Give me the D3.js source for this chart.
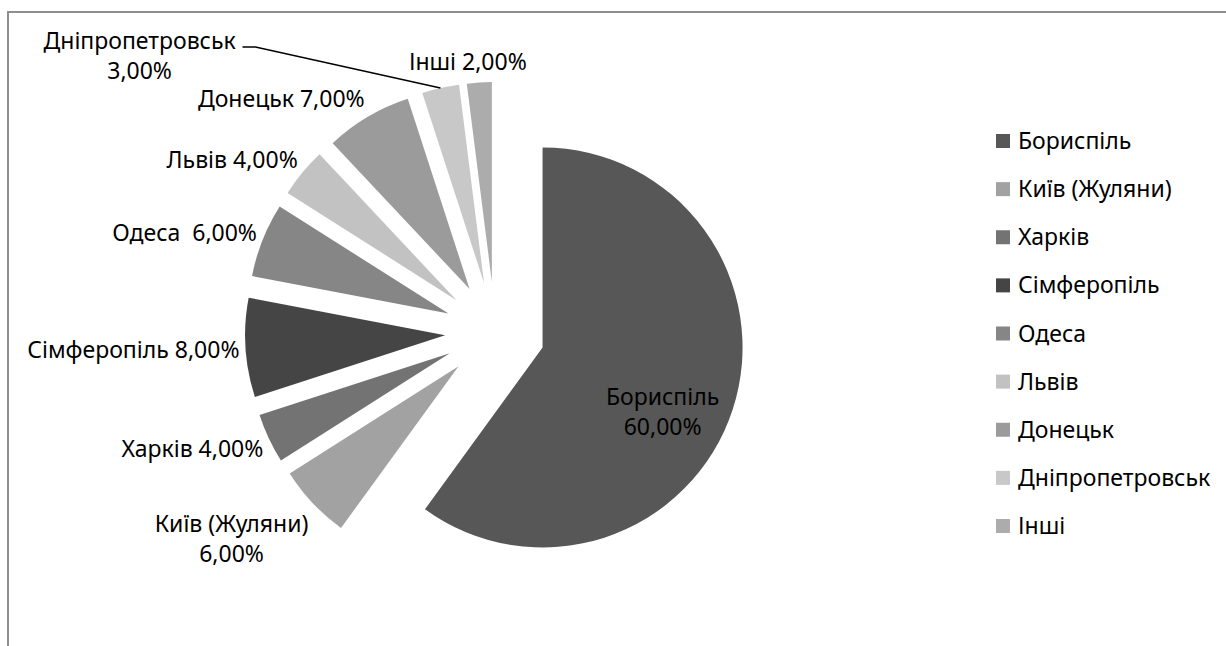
<!DOCTYPE html>
<html>
<head>
<meta charset="utf-8">
<script src="https://cdn.jsdelivr.net/npm/d3@7"></script>
<style>
  body { margin: 0; background: #fff; }
  text { font-family: "Noto Sans", sans-serif; font-size: 23px; fill: #000; white-space: pre; }
</style>
</head>
<body>
<script>
// airports and their share of passengers
var cities = ["Бориспіль", "Київ (Жуляни)", "Харків", "Сімферопіль", "Одеса",
              "Львів", "Донецьк", "Дніпропетровськ", "Інші"];
var shares = [60, 6, 4, 8, 6, 4, 7, 3, 2];
var sliceLabels = [["Бориспіль", "60,00%"], ["Київ (Жуляни)", "6,00%"], ["Харків 4,00%"],
                   ["Сімферопіль 8,00%"], ["Одеса  6,00%"], ["Львів 4,00%"],
                   ["Донецьк 7,00%"], ["Дніпропетровськ", "3,00%"], ["Інші 2,00%"]];
var colors = ["#575757", "#a2a2a2", "#737373", "#454545", "#868686",
              "#c2c2c2", "#9b9b9b", "#c8c8c8", "#acacac"];

var width = 1226,
    height = 646;

var svg = d3.select("body").append("svg")
    .attr("width", width)
    .attr("height", height);

// chart area frame (only top and left are visible)
svg.append("path")
    .attr("d", "M8," + height + "V12H" + width)
    .attr("fill", "none")
    .attr("stroke", "#8e8e8e")
    .attr("stroke-width", 2);

// pie geometry
var cx = 495, cy = 332, radius = 200, explode = 50, lineH = 30;

var pie = d3.pie().sort(null).value(function(d) { return d; });
var arcs = pie(shares);
var arc = d3.arc().innerRadius(0).outerRadius(radius);

function mid(d) { return (d.startAngle + d.endAngle) / 2; }
function polar(a, r) { return [r * Math.sin(a), -r * Math.cos(a)]; }
function tip(d) { return polar(mid(d), explode); }

var g = svg.append("g").attr("transform", "translate(" + cx + "," + cy + ")");

g.selectAll("path.slice")
    .data(arcs)
    .enter().append("path")
    .attr("class", "slice")
    .attr("d", arc)
    .attr("fill", function(d, i) { return colors[i]; })
    .attr("transform", function(d) { return "translate(" + tip(d) + ")"; });

// labels
var labels = g.selectAll("g.label")
    .data(arcs)
    .enter().append("g")
    .attr("class", "label");

labels.each(function(d, i) {
    var t = d3.select(this).append("text").attr("text-anchor", "middle");
    sliceLabels[i].forEach(function(line, k) {
        t.append("tspan").attr("x", 0).attr("y", k * lineH).text(line);
    });
});

var movedIndex = 7; // this label was dragged away, with a leader line

labels.each(function(d, i) {
    var el = d3.select(this);
    var box = this.getBBox();
    var a = mid(d), s = Math.sin(a), c = -Math.cos(a);
    var tp = tip(d);
    var left, top;
    if (i === 0) {
        // inside the big slice
        var p = polar(a + 10 * Math.PI / 180, radius * 0.68);
        left = tp[0] + p[0] - box.width / 2;
        top = tp[1] + p[1] - box.height / 2;
    } else if (i === movedIndex) {
        left = 140 - cx - box.width / 2;
        top = 24 - cy;
    } else {
        var px = tp[0] + (radius + 6) * s,
            py = tp[1] + (radius + 6) * c;
        var f = 0.5 * (1 - Math.sign(s) * Math.min(1, Math.abs(s) * 3));
        left = px - f * box.width;
        top = py - box.height * (1 - c) / 2 + (c > 0.5 ? 10 : 0);
    }
    var dx = left - box.x, dy = top - box.y;
    el.attr("transform", "translate(" + dx + "," + dy + ")");

    if (i === movedIndex) {
        var o = polar(a, radius);
        var sx = left + box.width + 6, sy = top + 23;
        g.append("path")
            .attr("d", "M" + sx + "," + sy + "h13L" + (tp[0] + o[0]) + "," + (tp[1] + o[1]))
            .attr("fill", "none")
            .attr("stroke", "#000")
            .attr("stroke-width", 1.5);
    }
});

// legend
var legendY = d3.scalePoint().domain(cities).range([141, 526]);

var legend = svg.append("g").attr("class", "legend")
    .selectAll("g")
    .data(cities)
    .enter().append("g")
    .attr("transform", function(d) { return "translate(996," + legendY(d) + ")"; });

legend.append("rect")
    .attr("x", 0).attr("y", -7)
    .attr("width", 14).attr("height", 14)
    .attr("fill", function(d, i) { return colors[i]; });

legend.append("text")
    .attr("x", 22)
    .attr("dy", "0.35em")
    .text(function(d) { return d; });
</script>
</body>
</html>
